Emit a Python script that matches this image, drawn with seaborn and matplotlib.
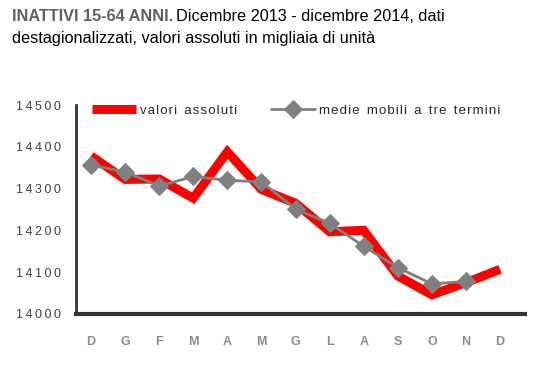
import numpy as np
import pandas as pd
import matplotlib
matplotlib.use("Agg")
import matplotlib.pyplot as plt
from matplotlib import font_manager
import seaborn as sns

mesi = ["D", "G", "F", "M", "A", "M", "G", "L", "A", "S", "O", "N", "D"]
valori_assoluti = [14378, 14322, 14323, 14277, 14388, 14298, 14265, 14197, 14200, 14091, 14046, 14075, 14107]
medie_mobili = [14356, 14340, 14306, 14329, 14320, 14316, 14251, 14217, 14162, 14111, 14072, 14078, np.nan]
y_ticks = [14000, 14100, 14200, 14300, 14400, 14500]

HAIR = "\u200a"
THIN = "\u2009"


def spaced(s):
    return "  ".join(HAIR.join(w) for w in s.split(" "))


df = pd.DataFrame({"pos": range(len(mesi)), "valori": valori_assoluti, "medie": medie_mobili})

sns.set_style("white")
plt.rcParams["font.family"] = ["Liberation Sans", "DejaVu Sans"]

installed = {f.name for f in font_manager.fontManager.ttflist}
if "Liberation Sans Narrow" in installed:
    title_font = ["Liberation Sans Narrow", "Liberation Sans"]
    title_size = 13.5
else:
    title_font = ["Liberation Sans", "DejaVu Sans"]
    title_size = 11.7

fig = plt.figure(figsize=(5.51, 3.66), dpi=100)
ax = fig.add_axes([76 / 551, 52 / 366, (525 - 76) / 551, (314 - 105) / 366])
renderer = fig.canvas.get_renderer()

sns.lineplot(data=df, x="pos", y="valori", ax=ax, color="#ff0000", linewidth=6.5,
             solid_joinstyle="miter", solid_capstyle="butt", label=spaced("valori assoluti"))
sns.lineplot(data=df, x="pos", y="medie", ax=ax, color="#808080", linewidth=2,
             marker="D", markersize=9, markeredgecolor="#808080",
             label=spaced("medie mobili a tre termini"))

# pick letter spacing for the y labels so they are about 40 px wide
best_sep, best_err = "", 1e9
for sep in ["", THIN, " ", " " + THIN, "  "]:
    probe = fig.text(0, 0, sep.join("14500"), fontsize=9)
    w = probe.get_window_extent(renderer).width
    probe.remove()
    if abs(w - 40) < best_err:
        best_sep, best_err = sep, abs(w - 40)

ax.set_xlim(-0.44, 12.73)
ax.set_ylim(14000, 14500)
ax.set_xticks(range(len(mesi)))
ax.set_xticklabels(mesi, fontsize=9, fontweight="bold", color="#8c8c8c")
ax.set_yticks(y_ticks)
ax.set_yticklabels([best_sep.join(str(v)) for v in y_ticks], fontsize=9, color="#404040")
ax.tick_params(axis="x", length=0, pad=16)
ax.tick_params(axis="y", direction="inout", length=8, width=2, color="#333333", pad=7)
ax.set_xlabel("")
ax.set_ylabel("")

for side in ["top", "right"]:
    ax.spines[side].set_visible(False)
ax.spines["left"].set_color("#333333")
ax.spines["left"].set_linewidth(2)
ax.spines["bottom"].set_color("#333333")
ax.spines["bottom"].set_linewidth(3)

leg = ax.legend(loc="upper left", bbox_to_anchor=(0.01, 1.06), ncol=2, frameon=False,
                fontsize=9.5, handlelength=3.3, columnspacing=2.6, handletextpad=0.3)

t1 = fig.text(12 / 551, 1 - 9 / 366, "INATTIVI 15-64 ANNI.", fontsize=title_size, fontweight="bold",
              family=title_font, color="#5f5f5f", va="top", ha="left")
bb = t1.get_window_extent(renderer)
x2 = bb.x1 / fig.bbox.width + 3 / 551
fig.text(x2, 1 - 9 / 366, "Dicembre 2013 - dicembre 2014, dati", fontsize=title_size,
         family=title_font, color="#000000", va="top", ha="left")
fig.text(12 / 551, 1 - 31 / 366, "destagionalizzati, valori assoluti in migliaia di unità",
         fontsize=title_size, family=title_font, color="#000000", va="top", ha="left")

fig.savefig("out.png", dpi=100)
